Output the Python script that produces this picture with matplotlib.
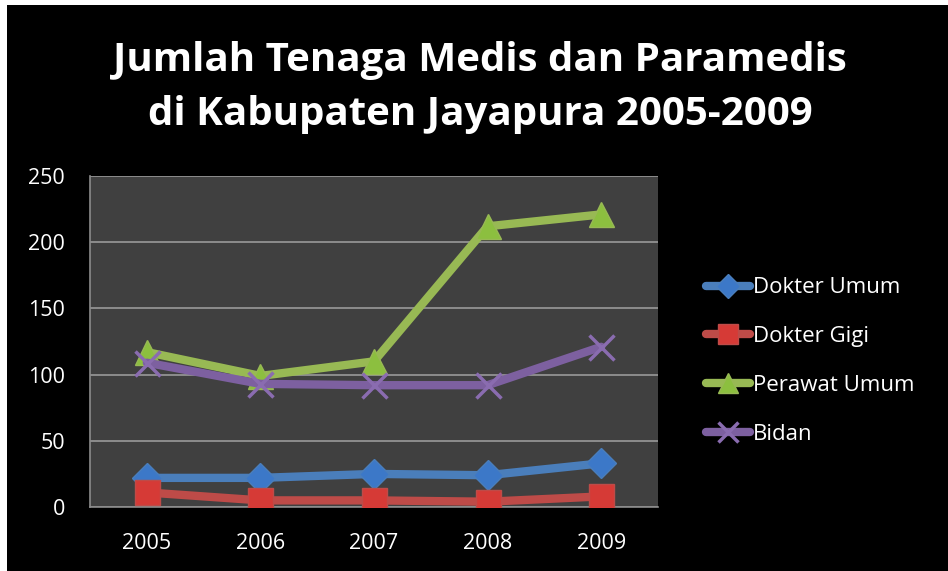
import matplotlib.pyplot as plt
from matplotlib.patches import Rectangle
from matplotlib.lines import Line2D

YEARS = ["2005", "2006", "2007", "2008", "2009"]
DOKTER_UMUM = [22, 22, 25, 24, 33]
DOKTER_GIGI = [11, 5, 5, 4, 8]
PERAWAT_UMUM = [117, 99, 110, 212, 221]
BIDAN = [109, 93, 92, 92, 121]
TITLE_LINES = ["Jumlah Tenaga Medis dan Paramedis", "di Kabupaten Jayapura 2005-2009"]

SERIES = [
    ("Dokter Umum", DOKTER_UMUM, "#4a7ebb", "D", "#3c78c8"),
    ("Dokter Gigi", DOKTER_GIGI, "#be4b48", "s", "#d63a36"),
    ("Perawat Umum", PERAWAT_UMUM, "#98b954", "^", "#8cbf3f"),
    ("Bidan", BIDAN, "#7d60a0", "x", "#8a6cb0"),
]

plt.rcParams["font.family"] = ["Open Sans", "DejaVu Sans"]

fig = plt.figure(figsize=(9.48, 5.71), dpi=100, facecolor="white")
fig.patches.append(Rectangle((7 / 948, 0), 1, 1 - 5 / 571, transform=fig.transFigure,
                             facecolor="black", edgecolor="none", zorder=-10))

ax = fig.add_axes([90 / 948, 1 - 507 / 571, 568 / 948, 331 / 571])
ax.set_facecolor("#404040")

x = list(range(len(YEARS)))
handles = []
for name, vals, col, mk, mcol in SERIES:
    if mk == "x":
        ax.plot(x, vals, color=col, lw=6, solid_capstyle="round", zorder=3)
        ax.plot(x, vals, ls="none", marker="x", ms=18, mew=2.5, color=mcol, zorder=4)
        h = Line2D([], [], color=col, lw=6, solid_capstyle="round",
                   marker="x", ms=14, mew=2.5, mec=mcol)
    else:
        ms = 18 if mk != "D" else 15
        ax.plot(x, vals, color=col, lw=6, solid_capstyle="round", marker=mk, ms=ms,
                mfc=mcol, mec=col, mew=1, zorder=3)
        h = Line2D([], [], color=col, lw=6, solid_capstyle="round", marker=mk,
                   ms=ms - 3, mfc=mcol, mec=col, mew=1)
    handles.append(h)

ax.set_xlim(-0.5, len(YEARS) - 0.5)
ax.set_ylim(0, 250)
ax.set_yticks([0, 50, 100, 150, 200, 250])
ax.set_xticks(x)
ax.set_xticklabels(YEARS)
ax.grid(axis="y", color="#9a9a9a", lw=1.2)
ax.set_axisbelow(True)
for s in ["top", "right"]:
    ax.spines[s].set_visible(False)
for s in ["left", "bottom"]:
    ax.spines[s].set_color("#8c8c8c")
    ax.spines[s].set_linewidth(1.2)
ax.tick_params(colors="white", labelsize=15.5, length=0, pad=19)
ax.tick_params(axis="y", pad=18)

for i, line in enumerate(TITLE_LINES):
    fig.text(480 / 948, 1 - (60 + 55 * i) / 571, line, ha="center", va="center",
             color="white", fontsize=29, fontweight="bold")

leg = fig.legend(handles, [s[0] for s in SERIES], loc="center left",
                 bbox_to_anchor=(686 / 948, 1 - 361 / 571), frameon=False,
                 labelcolor="white", fontsize=16, handlelength=2.0,
                 labelspacing=1.25, handletextpad=0.1)

fig.savefig("out.png", dpi=100, facecolor=fig.get_facecolor())
